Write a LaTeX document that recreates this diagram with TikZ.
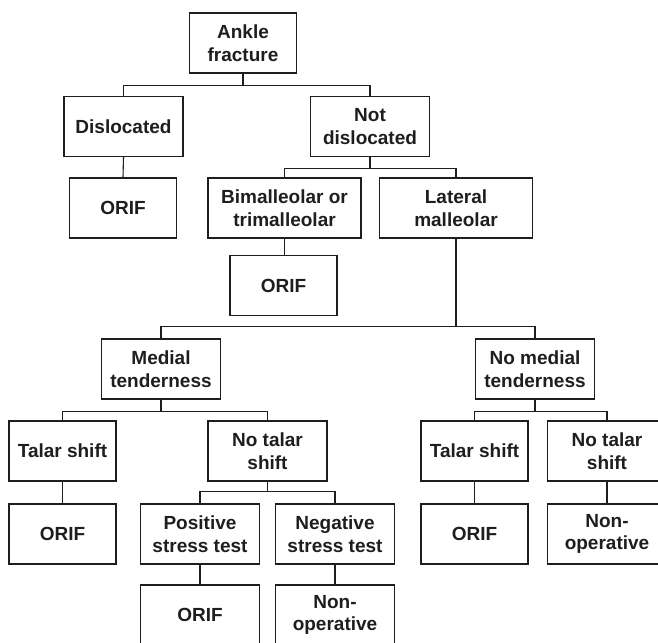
\documentclass[tikz,border=0pt]{standalone}
\usepackage{fontspec}
\setmainfont{Liberation Sans}
\usepackage{tikz}
\usepackage{color}
\definecolor{chartblack}{RGB}{30,30,30}

\begin{document}
\begin{tikzpicture}[x=1pt, y=-1pt, line width=1.1pt,
    box/.style={draw=chartblack, text=chartblack, align=center, minimum height=60pt, inner sep=0pt, font=\fontsize{19}{22.5}\selectfont\bfseries},
    smallbox/.style={box, minimum width=107pt},
    midbox/.style={box, minimum width=119pt},
    widebox/.style={box, minimum width=153pt},
    link/.style={draw=chartblack}]
  \useasboundingbox (0,0) rectangle (658,642);
  % top of the tree
  \node[smallbox] (ankle) at (243,43) {Ankle\\fracture};
  \node[midbox] (disl) at (123.5,126.5) {Dislocated};
  \node[midbox] (notdisl) at (370,126.5) {Not\\dislocated};
  \node[smallbox] (orifA) at (123,208) {ORIF};
  \node[widebox] (bimall) at (284.5,208) {Bimalleolar or\\trimalleolar};
  \node[widebox] (lateral) at (456,208) {Lateral\\malleolar};
  \node[smallbox] (orifB) at (283.5,285.5) {ORIF};
  % medial tenderness or not
  \node[midbox] (medial) at (161,369) {Medial\\tenderness};
  \node[midbox] (nomedial) at (535,369) {No medial\\tenderness};
  \node[smallbox] (talarL) at (62.5,451) {Talar shift};
  \node[midbox] (notalarL) at (267.5,451) {No talar\\shift};
  \node[smallbox] (talarR) at (474.5,451) {Talar shift};
  \node[midbox] (notalarR) at (607,451) {No talar\\shift};
  \node[smallbox] (orifC) at (62.5,534) {ORIF};
  \node[midbox] (positive) at (200,534) {Positive\\stress test};
  \node[midbox] (negative) at (335,534) {Negative\\stress test};
  \node[smallbox] (orifR) at (474.5,534) {ORIF};
  \node[midbox] (nonopR) at (607,534) {Non-\\operative};
  \node[midbox] (orifD) at (200,615) {ORIF};
  \node[midbox] (nonopD) at (335,615) {Non-\\operative};
  % connectors
  \draw[link] (ankle.south) -- ++(0,12) -| (disl.north);
  \draw[link] (ankle.south) -- ++(0,12) -| (notdisl.north);
  \draw[link] (disl.south) -- (orifA.north);
  \draw[link] (notdisl.south) -- ++(0,11) -| (bimall.north);
  \draw[link] (notdisl.south) -- ++(0,11) -| (lateral.north);
  \draw[link] (bimall.south) -- (bimall.south |- orifB.north);
  \draw[link] (lateral.south) -- ++(0,88) -| (medial.north);
  \draw[link] (lateral.south) -- ++(0,88) -| (nomedial.north);
  \draw[link] (medial.south) -- ++(0,12) -| (talarL.north);
  \draw[link] (medial.south) -- ++(0,12) -| (notalarL.north);
  \draw[link] (nomedial.south) -- ++(0,12) -| (talarR.north);
  \draw[link] (nomedial.south) -- ++(0,12) -| (notalarR.north);
  \draw[link] (talarL.south) -- (orifC.north);
  \draw[link] (notalarL.south) -- ++(0,10) -| (positive.north);
  \draw[link] (notalarL.south) -- ++(0,10) -| (negative.north);
  \draw[link] (talarR.south) -- (orifR.north);
  \draw[link] (notalarR.south) -- (nonopR.north);
  \draw[link] (positive.south) -- (orifD.north);
  \draw[link] (negative.south) -- (nonopD.north);
\end{tikzpicture}
\end{document}
